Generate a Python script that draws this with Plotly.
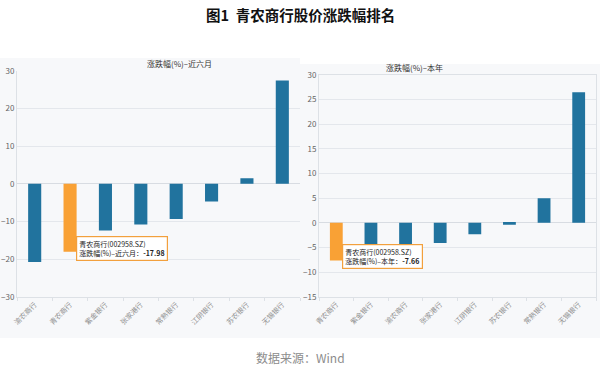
import plotly.graph_objects as go

W, H = 600, 377

# ---- data ----
cats_6m = ["渝农商行", "青农商行", "紫金银行", "张家港行", "常熟银行", "江阴银行", "苏农银行", "无锡银行"]
vals_6m = [-20.7, -17.98, -12.4, -10.8, -9.3, -4.7, 1.5, 27.4]
cats_ytd = ["青农商行", "紫金银行", "渝农商行", "张家港行", "江阴银行", "苏农银行", "常熟银行", "无锡银行"]
vals_ytd = [-7.66, -4.5, -4.6, -4.1, -2.3, -0.4, 5.0, 26.5]
highlight = "青农商行"
title_6m = "涨跌幅(%)–近六月"
title_ytd = "涨跌幅(%)–本年"
yticks_6m = [-30, -20, -10, 0, 10, 20, 30]
yticks_ytd = [-15, -10, -5, 0, 5, 10, 15, 20, 25, 30]

BLUE = "#21739e"
ORANGE = "#f9a135"
FONT = "Noto Sans CJK SC"

def px(x):
    return x / W

def py(y):
    return 1 - y / H

fig = go.Figure()
fig.add_trace(go.Bar(
    x=cats_6m, y=vals_6m, xaxis="x", yaxis="y",
    marker=dict(color=[ORANGE if c == highlight else BLUE for c in cats_6m], line=dict(width=0)),
    showlegend=False, hoverinfo="skip",
))
fig.add_trace(go.Bar(
    x=cats_ytd, y=vals_ytd, xaxis="x2", yaxis="y2",
    marker=dict(color=[ORANGE if c == highlight else BLUE for c in cats_ytd], line=dict(width=0)),
    showlegend=False, hoverinfo="skip",
))

grid = "#e4e7ec"
tickfont = dict(family=FONT, size=8, color="#666666")
xtickfont = dict(family=FONT, size=7, color="#8f8f8f")

common_x = dict(type="category", range=[-0.5, 7.5], tickangle=-45, tickfont=xtickfont,
                ticks="outside", ticklen=3, tickcolor="#dde1e6", tickson="boundaries",
                showline=True, linecolor="#dde1e6", showgrid=False, zeroline=False,
                fixedrange=True, automargin=False)
common_y = dict(tickfont=tickfont, showgrid=True, gridcolor=grid, gridwidth=1,
                zeroline=True, zerolinecolor="#d8dce2", zerolinewidth=1,
                showline=True, linecolor="#dde1e6", ticks="", fixedrange=True, automargin=False)

fig.update_layout(
    width=W, height=H,
    margin=dict(l=0, r=0, t=0, b=0),
    paper_bgcolor="white",
    plot_bgcolor="#fcfcfd",
    bargap=0.63,
    font=dict(family=FONT),
    xaxis=dict(domain=[px(17), px(300)], anchor="y", **common_x),
    yaxis=dict(domain=[py(297), py(70.7)], anchor="x", range=[-30, 30],
               tickvals=yticks_6m, **common_y),
    xaxis2=dict(domain=[px(319), px(596)], anchor="y2", mirror=True, **common_x),
    yaxis2=dict(domain=[py(296.7), py(75)], anchor="x2", range=[-15, 30],
                tickvals=yticks_ytd, mirror=True, **common_y),
)

# panel backgrounds
fig.add_shape(type="rect", xref="paper", yref="paper", x0=0, x1=px(300), y0=py(338), y1=py(58),
              fillcolor="#f7f8fa", line=dict(width=0), layer="below")
fig.add_shape(type="rect", xref="paper", yref="paper", x0=px(300), x1=1, y0=py(338), y1=py(64),
              fillcolor="#f7f8fa", line=dict(width=0), layer="below")

ann = []
ann.append(dict(text="<b>图1  青农商行股价涨跌幅排名</b>", x=0.5, y=py(14), xref="paper", yref="paper",
                yanchor="middle", showarrow=False, font=dict(family=FONT, size=14.5, color="#111111")))
ann.append(dict(text="数据来源：Wind", x=0.5, y=py(357), xref="paper", yref="paper",
                yanchor="middle", showarrow=False, font=dict(family=FONT, size=12, color="#8c8c8c")))
ann.append(dict(text=title_6m, x=px(145), y=py(63), xref="paper", yref="paper",
                yanchor="middle", showarrow=False, font=dict(family=FONT, size=8, color="#333333")))
ann.append(dict(text=title_ytd, x=px(445), y=py(67), xref="paper", yref="paper",
                yanchor="middle", showarrow=False, font=dict(family=FONT, size=8, color="#333333")))

v6 = vals_6m[cats_6m.index(highlight)]
vy = vals_ytd[cats_ytd.index(highlight)]
ann.append(dict(text=f"{highlight}(002958.SZ)<br>{title_6m}：<b>{v6:.2f}</b>",
                x=px(76), y=py(236), xref="paper", yref="paper", xanchor="left", yanchor="top",
                align="left", showarrow=False, bgcolor="white", bordercolor="#f2a03d",
                borderwidth=1.2, borderpad=2, font=dict(family=FONT, size=7, color="#222222")))
ann.append(dict(text=f"{highlight}(002958.SZ)<br>{title_ytd}：<b>{vy:.2f}</b>",
                x=px(342), y=py(243.5), xref="paper", yref="paper", xanchor="left", yanchor="top",
                align="left", showarrow=False, bgcolor="white", bordercolor="#f2a03d",
                borderwidth=1.2, borderpad=2, font=dict(family=FONT, size=7, color="#222222")))
fig.update_layout(annotations=ann)

fig.write_html("out.html", config={"displayModeBar": False},
               post_script="document.body.style.margin='0';document.body.style.overflow='hidden';")
